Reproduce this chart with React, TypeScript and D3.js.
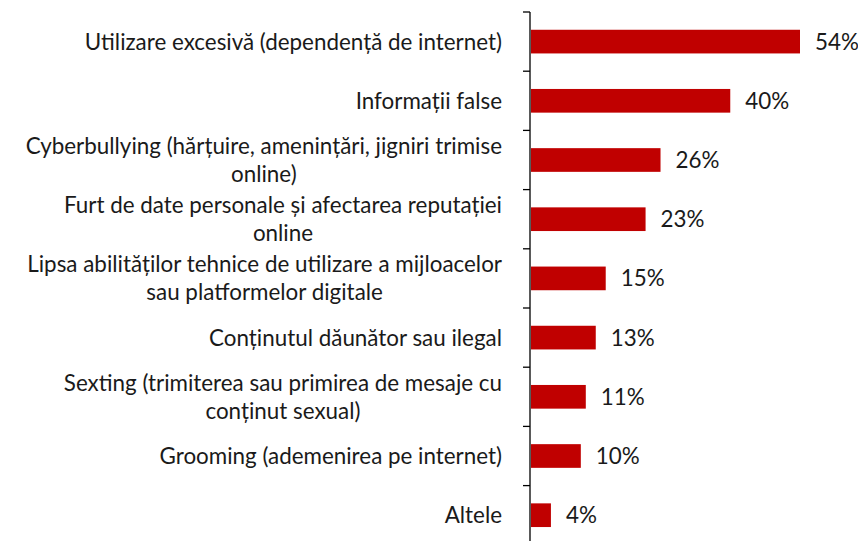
import React, { useEffect, useRef } from 'react';
import * as d3 from 'd3';

// categories, top to bottom (line breaks as in the original)
const categories: string[] = [
  'Utilizare excesivă (dependență de internet)',
  'Informații false',
  'Cyberbullying (hărțuire, amenințări, jigniri trimise\nonline)',
  'Furt de date personale și afectarea reputației\nonline',
  'Lipsa abilităților tehnice de utilizare a mijloacelor\nsau platformelor digitale',
  'Conținutul dăunător sau ilegal',
  'Sexting (trimiterea sau primirea de mesaje cu\nconținut sexual)',
  'Grooming (ademenirea pe internet)',
  'Altele',
];
const values: number[] = [54, 40, 26, 23, 15, 13, 11, 10, 4];

const W = 858;
const H = 541;
const axisX = 530;
const top = 12;
const band = 59.2;
const fontSize = 22.4;

function App() {
  const svgRef = useRef<SVGSVGElement>(null);

  useEffect(() => {
    const svg = d3.select(svgRef.current);
    svg.selectAll('*').remove();

    var y = d3
      .scaleBand<string>()
      .domain(categories)
      .range([top, top + band * categories.length])
      .paddingInner(0.6)
      .paddingOuter(0.3);

    var x = d3.scaleLinear().domain([0, 54]).range([axisX + 1, 800]);

    // bars
    svg
      .selectAll('rect.bar')
      .data(values)
      .enter()
      .append('rect')
      .attr('class', 'bar')
      .attr('x', x(0))
      .attr('y', (d, i) => y(categories[i])!)
      .attr('width', d => x(d) - x(0))
      .attr('height', y.bandwidth())
      .attr('fill', '#c00000');

    // value labels
    svg
      .selectAll('text.val')
      .data(values)
      .enter()
      .append('text')
      .attr('class', 'val')
      .attr('x', d => x(d) + 15)
      .attr('y', (d, i) => y(categories[i])! + y.bandwidth() / 2)
      .attr('dy', '0.36em')
      .style('font-family', 'Lato, sans-serif')
      .style('font-size', fontSize + 'px')
      .style('fill', '#1a1a1a')
      .text(d => d + '%');

    // axis line and ticks
    const g = svg.append('g');
    g.append('line')
      .attr('x1', axisX)
      .attr('x2', axisX)
      .attr('y1', top)
      .attr('y2', H)
      .attr('stroke', '#000')
      .attr('stroke-width', 1.3);
    d3.range(categories.length).forEach(i => {
      const ty = top + band * i;
      g.append('line')
        .attr('x1', axisX - 7)
        .attr('x2', axisX)
        .attr('y1', ty)
        .attr('y2', ty)
        .attr('stroke', '#000')
        .attr('stroke-width', 1.3);
    });

    // category labels: block right-aligned, lines centred inside it
    const lineH = 28;
    categories.forEach(c => {
      const lines = c.split('\n');
      const cy = y(c)! + y.bandwidth() / 2;
      const t = svg
        .append('text')
        .style('font-family', 'Lato, sans-serif')
        .style('font-size', fontSize + 'px')
        .style('fill', '#1a1a1a')
        .attr('text-anchor', 'middle');
      const spans = lines.map((l, k) =>
        t
          .append('tspan')
          .attr('y', cy + (k - (lines.length - 1) / 2) * lineH)
          .attr('dy', '0.36em')
          .text(l)
      );
      const maxW = d3.max(spans, s => (s.node() as SVGTSpanElement).getComputedTextLength()) || 0;
      const cx = axisX - 28 - maxW / 2;
      spans.forEach(s => s.attr('x', cx));
    });
  }, []);

  return <svg ref={svgRef} width={W} height={H} style={{ position: 'absolute', left: 0, top: 0 }} />;
}

export default App;
